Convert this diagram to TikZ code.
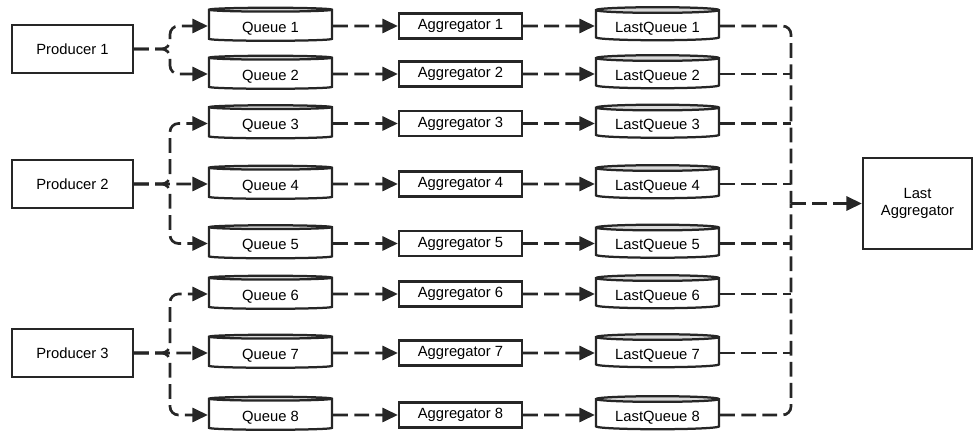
\documentclass[tikz,border=0pt]{standalone}
\usepackage{fontspec}
\setmainfont{Liberation Sans}
\usetikzlibrary{arrows.meta,shapes.geometric,positioning}

\begin{document}
\begin{tikzpicture}[x=0.025cm,y=-0.025cm]
  \tikzset{
    prod/.style={draw=black!85, fill=white, line width=1.6pt, minimum width=86pt, minimum height=34pt, align=center, font=\fontsize{10.5}{12.6}\selectfont},
    agg/.style={prod, minimum width=87.5pt, minimum height=17.8pt},
    lastagg/.style={prod, minimum width=77.5pt, minimum height=64.7pt},
    queue/.style={cylinder, shape border rotate=90, aspect=0.065, draw=black!85, line width=1.6pt, cylinder uses custom fill, cylinder body fill=white, cylinder end fill=black!15, minimum width=87.5pt, minimum height=23.5pt, inner sep=1pt, text height=10pt, text depth=1pt, font=\fontsize{10.5}{12.6}\selectfont},
    flow/.style={black!85, line width=1.9pt, dash pattern=on 10.5pt off 4.5pt, rounded corners=6pt},
    arr/.style={-{Triangle[length=11pt,width=10pt]}}
  }
  \useasboundingbox (0,0) rectangle (976,432);

  % X positions
  \def\xP{72.5}
  \def\xQ{270.5}
  \def\xA{460.5}
  \def\xL{657.5}
  \coordinate (split) at (170,0);
  \coordinate (join) at (791,0);

  % Producers
  \node[prod] (p1) at (\xP,49) {Producer 1};
  \node[prod] (p2) at (\xP,184) {Producer 2};
  \node[prod] (p3) at (\xP,353) {Producer 3};

  % Queues
  \node[queue] (q1) at (\xQ,26) {Queue 1};
  \node[queue] (q2) at (\xQ,74) {Queue 2};
  \node[queue] (q3) at (\xQ,123.5) {Queue 3};
  \node[queue] (q4) at (\xQ,184) {Queue 4};
  \node[queue] (q5) at (\xQ,243.5) {Queue 5};
  \node[queue] (q6) at (\xQ,294) {Queue 6};
  \node[queue] (q7) at (\xQ,353) {Queue 7};
  \node[queue] (q8) at (\xQ,415) {Queue 8};

  % Aggregators
  \node[agg] (a1) at (\xA,26) {Aggregator 1};
  \node[agg] (a2) at (\xA,74) {Aggregator 2};
  \node[agg] (a3) at (\xA,123.5) {Aggregator 3};
  \node[agg] (a4) at (\xA,184) {Aggregator 4};
  \node[agg] (a5) at (\xA,243.5) {Aggregator 5};
  \node[agg] (a6) at (\xA,294) {Aggregator 6};
  \node[agg] (a7) at (\xA,353) {Aggregator 7};
  \node[agg] (a8) at (\xA,415) {Aggregator 8};

  % Last queues
  \node[queue] (lq1) at (\xL,26) {LastQueue 1};
  \node[queue] (lq2) at (\xL,74) {LastQueue 2};
  \node[queue] (lq3) at (\xL,123.5) {LastQueue 3};
  \node[queue] (lq4) at (\xL,184) {LastQueue 4};
  \node[queue] (lq5) at (\xL,243.5) {LastQueue 5};
  \node[queue] (lq6) at (\xL,294) {LastQueue 6};
  \node[queue] (lq7) at (\xL,353) {LastQueue 7};
  \node[queue] (lq8) at (\xL,415) {LastQueue 8};

  \node[lastagg] (la) at (917.5,203.5) {Last\\Aggregator};

  % Producer -> queues
  \draw[flow,arr] (p1.east) -| (split |- q1.west) -- (q1.west);
  \draw[flow,arr] (p1.east) -| (split |- q2.west) -- (q2.west);
  \draw[flow,arr] (p2.east) -| (split |- q3.west) -- (q3.west);
  \draw[flow,arr] (p2.east) -- (q4.west);
  \draw[flow,arr] (p2.east) -| (split |- q5.west) -- (q5.west);
  \draw[flow,arr] (p3.east) -| (split |- q6.west) -- (q6.west);
  \draw[flow,arr] (p3.east) -- (q7.west);
  \draw[flow,arr] (p3.east) -| (split |- q8.west) -- (q8.west);

  % Queue -> aggregator -> last queue
  \draw[flow,arr] (q1.east) -- (a1.west);
  \draw[flow,arr] (q2.east) -- (a2.west);
  \draw[flow,arr] (q3.east) -- (a3.west);
  \draw[flow,arr] (q4.east) -- (a4.west);
  \draw[flow,arr] (q5.east) -- (a5.west);
  \draw[flow,arr] (q6.east) -- (a6.west);
  \draw[flow,arr] (q7.east) -- (a7.west);
  \draw[flow,arr] (q8.east) -- (a8.west);
  \draw[flow,arr] (a1.east) -- (lq1.west);
  \draw[flow,arr] (a2.east) -- (lq2.west);
  \draw[flow,arr] (a3.east) -- (lq3.west);
  \draw[flow,arr] (a4.east) -- (lq4.west);
  \draw[flow,arr] (a5.east) -- (lq5.west);
  \draw[flow,arr] (a6.east) -- (lq6.west);
  \draw[flow,arr] (a7.east) -- (lq7.west);
  \draw[flow,arr] (a8.east) -- (lq8.west);

  % Last queues -> last aggregator
  \draw[flow] (lq1.east) -| (join |- la.west);
  \draw[flow] (lq8.east) -| (join |- la.west);
  \draw[flow] (lq2.east) -- (join |- lq2.east);
  \draw[flow] (lq3.east) -- (join |- lq3.east);
  \draw[flow] (lq4.east) -- (join |- lq4.east);
  \draw[flow] (lq5.east) -- (join |- lq5.east);
  \draw[flow] (lq6.east) -- (join |- lq6.east);
  \draw[flow] (lq7.east) -- (join |- lq7.east);
  \draw[flow,arr] (join |- la.west) -- (la.west);

\end{tikzpicture}
\end{document}
